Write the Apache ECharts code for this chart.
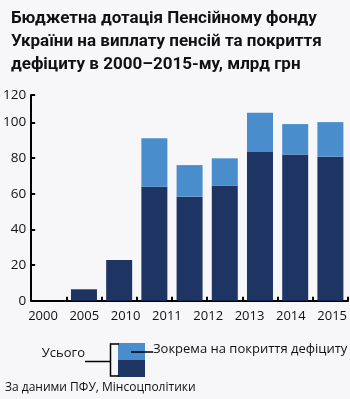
<!DOCTYPE html>
<html><head><meta charset="utf-8">
<script src="https://cdn.jsdelivr.net/npm/echarts@6/dist/echarts.min.js"></script>
<style>html,body{margin:0;padding:0;background:#f7f7f9;}#c{width:350px;height:399px;}</style>
</head><body><div id="c"></div>
<script>
// Bar slots (9 slots on the axis)
const slots = ['s0','s1','s2','s3','s4','s5','s6','s7','s8'];
// Part of the subsidy other than deficit coverage (dark)
const mainPart = [0, 6.4, 22.8, 63.9, 58.3, 64.6, 83.3, 82.0, 80.7];
// Of which: deficit coverage (light)
const deficitPart = [0, 0, 0, 27.1, 17.7, 15.2, 22.0, 17.0, 19.4];
// X tick labels as printed
const xTickLabels = ['2000','2005','2010','2011','2012','2013','2014','2015'];
// Y tick values and printed labels
const yTickValues = [0, 20, 40, 60, 80, 100, 115.3];
const yTickLabels = ['0','20','40','60','80','100','120'];

const title = 'Бюджетна дотація Пенсійному фонду\nУкраїни на виплату пенсій та покриття\nдефіциту в 2000–2015-му, млрд грн';
const source = 'За даними ПФУ, Мінсоцполітики';
const legTotal = 'Усього';
const legDeficit = 'Зокрема на покриття дефіциту';

const DARK = '#1e3563';
const LIGHT = '#4a8dcc';
const FONT = 'Open Sans';

const chart = echarts.init(document.getElementById('c'), null, {renderer:'canvas'});
chart.setOption({
  backgroundColor: '#f7f7f9',
  animation: false,
  title: {
    text: title, left: 6, top: 2,
    textStyle: {fontFamily: 'Roboto', fontWeight: 'bold', fontSize: 17, lineHeight: 23, color: '#111'}
  },
  grid: [
    {left: 28, right: 2, top: 95, bottom: 98.3},
    {left: 43, right: 16, top: 95, bottom: 98.3}
  ],
  xAxis: [
    {type: 'category', gridIndex: 0, data: slots, boundaryGap: true,
     axisLine: {lineStyle: {color: '#000', width: 2}},
     axisTick: {show: true, inside: true, length: 4, lineStyle: {color: '#000', width: 2}},
     axisLabel: {show: false}},
    {type: 'category', gridIndex: 1, data: xTickLabels, boundaryGap: false,
     axisLine: {show: false}, axisTick: {show: false},
     axisLabel: {show: true, margin: 9, interval: 0, fontFamily: FONT, fontSize: 13, color: '#111'}}
  ],
  yAxis: [
    {type: 'value', gridIndex: 0, min: 0, max: 115.3,
     axisLine: {show: true, lineStyle: {color: '#000', width: 2}},
     axisTick: {show: true, inside: true, length: 4, customValues: yTickValues, lineStyle: {color: '#000', width: 2}},
     axisLabel: {show: true, margin: 5, customValues: yTickValues, fontFamily: FONT, fontSize: 13.5, color: '#111',
       formatter: function(v){ const i = yTickValues.indexOf(v); return i >= 0 ? yTickLabels[i] : ''; }},
     splitLine: {show: false}},
    {type: 'value', gridIndex: 1, min: 0, max: 115.3, show: false}
  ],
  series: [
    {type: 'bar', name: 'main', stack: 'a', xAxisIndex: 0, yAxisIndex: 0, data: mainPart,
     barWidth: 26, itemStyle: {color: DARK}},
    {type: 'bar', name: 'deficit', stack: 'a', xAxisIndex: 0, yAxisIndex: 0, data: deficitPart,
     barWidth: 26, itemStyle: {color: LIGHT}}
  ],
  graphic: [
    {type: 'text', right: 350 - 85, top: 347, style: {text: legTotal, fontFamily: FONT, fontSize: 13, fill: '#111'}},
    {type: 'line', shape: {x1: 85, y1: 361.5, x2: 110, y2: 361.5}, style: {stroke: '#000', lineWidth: 1.5}},
    {type: 'rect', shape: {x: 118, y: 343, width: 27, height: 17}, style: {fill: LIGHT}},
    {type: 'rect', shape: {x: 118, y: 360, width: 27, height: 17}, style: {fill: DARK}},
    {type: 'polyline', shape: {points: [[119, 344], [110.5, 344], [110.5, 376], [119, 376]]}, style: {stroke: '#000', lineWidth: 1.5, fill: null}},
    {type: 'line', shape: {x1: 131, y1: 352, x2: 153, y2: 352}, style: {stroke: '#000', lineWidth: 1.5}},
    {type: 'text', left: 153, top: 343, style: {text: legDeficit, fontFamily: FONT, fontSize: 13, fill: '#111'}},
    {type: 'text', left: 5, top: 382, style: {text: source, fontFamily: FONT, fontSize: 12, fill: '#111'}}
  ]
});
</script></body></html>
